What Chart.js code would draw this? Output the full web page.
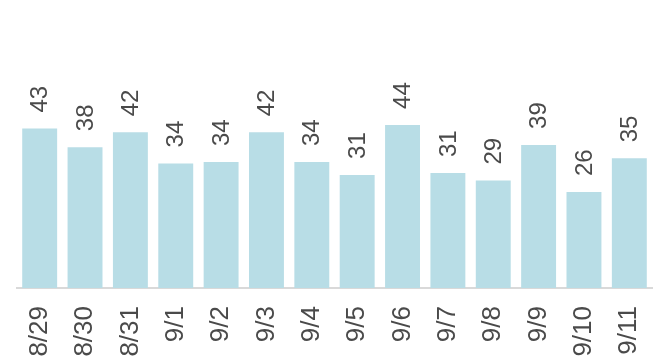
<!DOCTYPE html>
<html>
<head>
<meta charset="utf-8">
<script src="https://cdn.jsdelivr.net/npm/chart.js@4/dist/chart.umd.min.js"></script>
<style>
html,body{margin:0;padding:0;background:#fff;}
#wrap{width:658px;height:361px;position:relative;}
</style>
</head>
<body>
<div id="wrap"><canvas id="c" width="658" height="361"></canvas></div>
<script>
const categories = ["8/29","8/30","8/31","9/1","9/2","9/3","9/4","9/5","9/6","9/7","9/8","9/9","9/10","9/11"];
const values = [43,38,42,33.6,34,42,34,30.5,44,31,29,38.6,25.9,35];

const FONT = "'Liberation Sans', Arial, sans-serif";
const TEXT = "#4a4a4a";

const valueLabels = {
  id: 'valueLabels',
  afterDatasetsDraw(chart) {
    const ctx = chart.ctx;
    const meta = chart.getDatasetMeta(0);
    ctx.save();
    ctx.font = "24px " + FONT;
    ctx.fillStyle = TEXT;
    ctx.textAlign = 'left';
    ctx.textBaseline = 'middle';
    meta.data.forEach((bar, i) => {
      ctx.save();
      ctx.translate(bar.x + 1, bar.y - 16);
      ctx.rotate(-Math.PI / 2);
      ctx.fillText(String(Math.round(values[i])), 0, 0);
      ctx.restore();
    });
    ctx.restore();
  }
};

new Chart(document.getElementById('c'), {
  type: 'bar',
  data: {
    labels: categories,
    datasets: [{
      data: values,
      backgroundColor: '#b8dde6',
      borderWidth: 0,
      barPercentage: 0.77,
      categoryPercentage: 1.0
    }]
  },
  options: {
    responsive: false,
    animation: false,
    layout: { padding: { top: 10, left: 17, right: 6, bottom: 0 } },
    plugins: { legend: { display: false }, tooltip: { enabled: false } },
    scales: {
      x: {
        grid: { display: false, drawTicks: false },
        border: { display: true, color: '#d9d9d9', width: 2 },
        ticks: {
          color: TEXT,
          font: { family: FONT, size: 26 },
          minRotation: 90,
          maxRotation: 90,
          padding: 18,
          autoSkip: false
        },
        afterFit(scale) {
          scale.height = 73;
          scale.paddingLeft = 0;
          scale.paddingRight = 0;
        }
      },
      y: {
        display: false,
        min: 0,
        max: 75
      }
    }
  },
  plugins: [valueLabels]
});
</script>
</body>
</html>
